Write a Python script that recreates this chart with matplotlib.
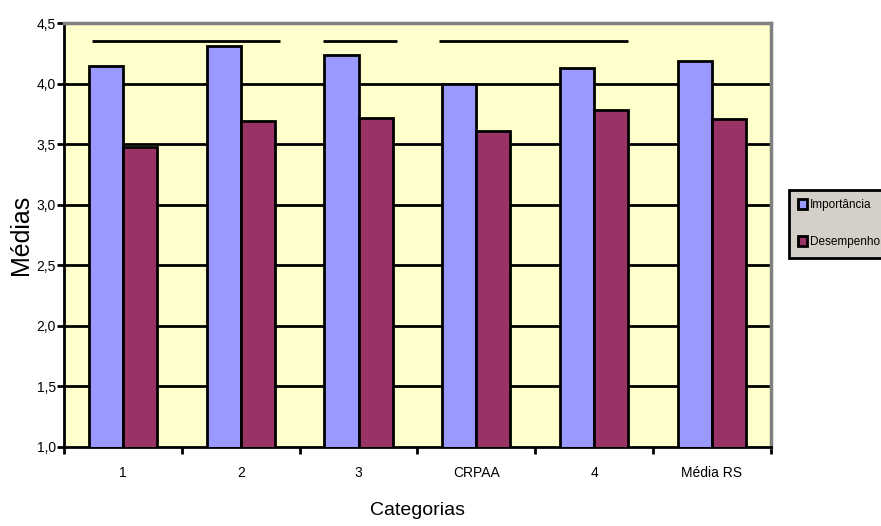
import matplotlib
matplotlib.use("Agg")
import matplotlib.pyplot as plt
import numpy as np
from matplotlib.ticker import FuncFormatter

plt.rcParams['font.family'] = ['Liberation Sans', 'DejaVu Sans']

categories = ["1", "2", "3", "CRPAA", "4", "Média RS"]
importancia = [4.15, 4.31, 4.24, 4.00, 4.13, 4.19]
desempenho = [3.48, 3.69, 3.72, 3.61, 3.78, 3.71]
series_names = ["Importância", "Desempenho"]

# bracket segments drawn above the groups (start, end in category units, level)
bracket_start = [-0.26, 1.70, 2.68]
bracket_end = [1.33, 2.33, 4.29]
bracket_level = 4.356

fig = plt.figure(figsize=(8.81, 5.26), dpi=100)
ax = fig.add_axes([0.0726, 0.1508, 0.8024, 0.8049])
ax.set_facecolor("#FFFFCC")

x = np.arange(len(categories))
w = 0.29
ax.bar(x - w / 2, importancia, w, bottom=0, color="#9999FF", edgecolor="black",
       linewidth=2, label=series_names[0], zorder=3)
ax.bar(x + w / 2, desempenho, w, bottom=0, color="#993366", edgecolor="black",
       linewidth=2, label=series_names[1], zorder=3)

for s, e in zip(bracket_start, bracket_end):
    ax.plot([s, e], [bracket_level, bracket_level], color="black", lw=2, zorder=4,
            solid_capstyle="butt")

ax.set_xlim(-0.5, len(categories) - 0.5)
ax.set_ylim(1.0, 4.5)
yt = np.arange(1.0, 4.51, 0.5)
ax.set_yticks(yt)
ax.yaxis.set_major_formatter(FuncFormatter(lambda v, p: f"{v:.1f}".replace(".", ",")))
for v in yt[1:-1]:
    ax.axhline(v, color="black", lw=2, zorder=1)

ax.set_xticks(np.arange(-0.5, len(categories), 1.0))
ax.set_xticklabels([])
ax.set_xticks(x, minor=True)
ax.set_xticklabels(categories, minor=True)
ax.tick_params(axis="x", which="major", direction="out", length=5, width=2, color="black")
ax.tick_params(axis="x", which="minor", length=0, pad=14, labelsize=10)
ax.tick_params(axis="y", direction="out", length=5, width=2, color="black", labelsize=10, pad=1)

for side in ("top", "right"):
    ax.spines[side].set_color("#808080")
    ax.spines[side].set_linewidth(2.5)
for side in ("left", "bottom"):
    ax.spines[side].set_color("black")
    ax.spines[side].set_linewidth(2)

ax.set_ylabel("Médias", fontsize=18, labelpad=2)
ax.set_xlabel("Categorias", fontsize=14, labelpad=16)

leg = fig.legend(loc="upper left", bbox_to_anchor=(0.8956, 0.6388), fontsize=8.5,
                 frameon=True, fancybox=False, edgecolor="black", facecolor="#D4D0C8",
                 handlelength=0.7, handleheight=0.9, handletextpad=0.3,
                 labelspacing=2.1, borderpad=0.8, borderaxespad=0)
leg.get_frame().set_linewidth(2)
leg.get_frame().set_alpha(1)

fig.savefig("out.png", dpi=100)
